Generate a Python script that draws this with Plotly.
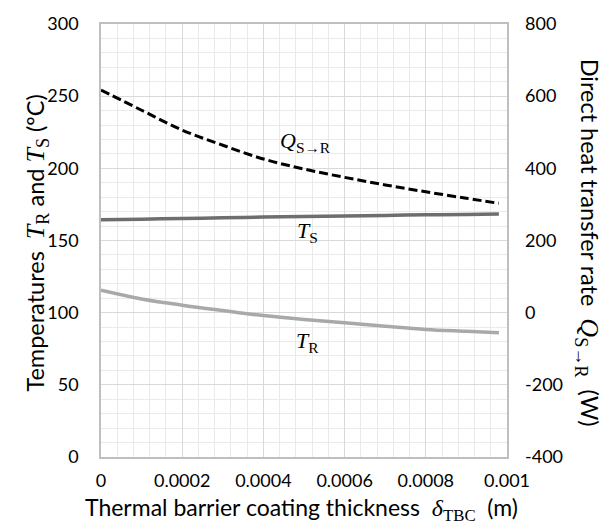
import plotly.graph_objects as go

# Data
thickness = [0, 0.0001, 0.0002, 0.0003, 0.0004, 0.0005, 0.0006, 0.0007, 0.0008, 0.0009, 0.00098]
Q_SR = [617, 561, 506, 464, 426, 398, 375, 354, 335, 317, 303]
T_S = [164.3, 164.8, 165.3, 165.7, 166.2, 166.6, 167.0, 167.4, 167.8, 168.1, 168.4]
T_R = [115.5, 109.5, 105.2, 101.5, 98.0, 95.3, 93.0, 90.6, 88.4, 87.1, 86.1]

x_ticks = [0, 0.0002, 0.0004, 0.0006, 0.0008, 0.001]
x_tick_labels = ["0", "0.0002", "0.0004", "0.0006", "0.0008", "0.001"]
left_ticks = [0, 50, 100, 150, 200, 250, 300]
right_ticks = [-400, -200, 0, 200, 400, 600, 800]
right_tick_labels = ["-400", "-200", "0", "200", "400", "600", "800"]

SANS = "Lato, 'Open Sans', sans-serif"
SERIF = "'Liberation Serif', 'DejaVu Serif', serif"
SERIF_CSS = "Liberation Serif, DejaVu Serif, serif"


def sv(t, size=24):
    return f'<span style="font-family:{SERIF_CSS};font-size:{size}px">{t}</span>'


fig = go.Figure()
fig.add_trace(go.Scatter(x=thickness, y=T_S, mode="lines", line=dict(color="#6e6e6e", width=3.5, shape="spline"),
                         showlegend=False))
fig.add_trace(go.Scatter(x=thickness, y=T_R, mode="lines", line=dict(color="#a9a9a9", width=3.5, shape="spline"),
                         showlegend=False))
fig.add_trace(go.Scatter(x=thickness, y=Q_SR, mode="lines", yaxis="y2",
                         line=dict(color="black", width=3, dash="9px,4px", shape="spline"), showlegend=False))

grid_major = "#d9d9d9"
grid_minor = "#eaeaea"

fig.update_layout(
    width=610, height=530,
    margin=dict(l=101, r=103, t=17, b=73),
    paper_bgcolor="white", plot_bgcolor="white",
    font=dict(family=SANS, size=18, color="black"),
    xaxis=dict(range=[0, 0.001], tickvals=x_ticks, ticktext=x_tick_labels,
               showgrid=True, gridcolor=grid_major, gridwidth=1,
               minor=dict(dtick=0.00004, showgrid=True, gridcolor=grid_minor, gridwidth=1),
               showline=True, linecolor="#bfbfbf", linewidth=1.5, mirror=True,
               zeroline=False, ticks="", ticklabelstandoff=7),
    yaxis=dict(range=[0, 300], tickvals=left_ticks,
               showgrid=True, gridcolor=grid_major, gridwidth=1,
               minor=dict(dtick=10, showgrid=True, gridcolor=grid_minor, gridwidth=1),
               showline=True, linecolor="#bfbfbf", linewidth=1.5, mirror=True,
               zeroline=False, ticks="", ticklabelstandoff=17),
    yaxis2=dict(range=[-400, 800], tickvals=right_ticks, ticktext=right_tick_labels,
                overlaying="y", side="right",
                showgrid=False, zeroline=False, ticks="", ticklabelstandoff=17),
    annotations=[
        dict(text="Thermal barrier coating thickness  " + sv("<i>δ</i><sub>TBC</sub>") + "  (m)",
             xref="paper", yref="paper", x=0.494, y=-0.12, showarrow=False,
             font=dict(size=23, family=SANS), xanchor="center", yanchor="middle"),
        dict(text="Temperatures  " + sv("<i>T</i><sub>R</sub>", 26) + " and " + sv("<i>T</i><sub>S</sub>", 26) + " (ºC)",
             xref="paper", yref="paper", x=-0.160, y=0.493, textangle=-90, showarrow=False,
             font=dict(size=23.5, family=SANS), xanchor="center", yanchor="middle"),
        dict(text="Direct heat transfer rate  " + sv("<i>Q</i><sub>S→R</sub>", 26) + "  (W)",
             xref="paper", yref="paper", x=1.1995, y=0.495, textangle=90, showarrow=False,
             font=dict(size=23.5, family=SANS), xanchor="center", yanchor="middle"),
        dict(text="<i>Q</i><sub>S→R</sub>", x=0.000504, y=473, xref="x", yref="y2", showarrow=False,
             font=dict(size=22, family=SERIF)),
        dict(text="<i>T</i><sub>S</sub>", x=0.000508, y=156, xref="x", yref="y", showarrow=False,
             font=dict(size=22, family=SERIF)),
        dict(text="<i>T</i><sub>R</sub>", x=0.000508, y=80, xref="x", yref="y", showarrow=False,
             font=dict(size=22, family=SERIF)),
    ],
)

fig.write_html("out.html")
